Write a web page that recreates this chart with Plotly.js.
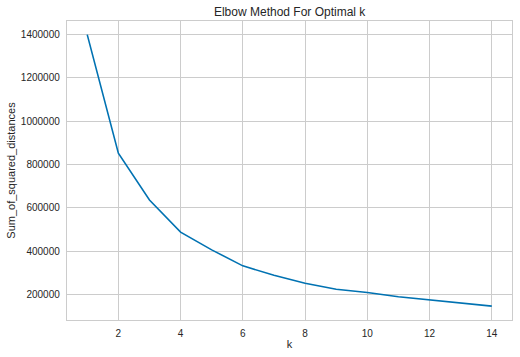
<!DOCTYPE html>
<html>
<head>
<meta charset="utf-8">
<script src="https://cdn.plot.ly/plotly-3.0.1.min.js"></script>
<style>html,body{margin:0;padding:0;background:#fff;}#chart{width:520px;height:357px;}</style>
</head>
<body>
<div id="chart"></div>
<script>
const kValues = [1, 2, 3, 4, 5, 6, 7, 8, 9, 10, 11, 12, 13, 14];
const sumSquaredDistances = [1400000, 852000, 636000, 488000, 406000, 332000, 289000, 252000, 224000, 209000, 189000, 174000, 160000, 146000];
const xTicks = [2, 4, 6, 8, 10, 12, 14];
const yTicks = [200000, 400000, 600000, 800000, 1000000, 1200000, 1400000];

const trace = {
  x: kValues,
  y: sumSquaredDistances,
  type: 'scatter',
  mode: 'lines',
  line: {color: '#0072B2', width: 1.6},
  hoverinfo: 'skip'
};

const axisCommon = {
  showgrid: true,
  gridcolor: '#cccccc',
  gridwidth: 1,
  showline: true,
  mirror: true,
  linecolor: '#cccccc',
  linewidth: 1.2,
  zeroline: false,
  ticks: 'outside',
  ticklen: 4,
  tickcolor: 'rgba(0,0,0,0)',
  tickfont: {family: 'Liberation Sans, Arial, sans-serif', size: 10, color: '#262626'}
};

const layout = {
  width: 520,
  height: 357,
  margin: {l: 67, r: 8, t: 21, b: 37},
  paper_bgcolor: '#ffffff',
  plot_bgcolor: '#ffffff',
  showlegend: false,
  title: {
    text: 'Elbow Method For Optimal k',
    font: {family: 'Liberation Sans, Arial, sans-serif', size: 12, color: '#262626'},
    x: 0.557, xanchor: 'center', y: 0.967, yanchor: 'middle'
  },
  xaxis: Object.assign({}, axisCommon, {
    range: [0.35, 14.65],
    tickvals: xTicks,
    ticktext: xTicks.map(String),
    title: {text: 'k', font: {family: 'Liberation Sans, Arial, sans-serif', size: 11, color: '#262626'}, standoff: 2}
  }),
  yaxis: Object.assign({}, axisCommon, {
    range: [82000, 1463000],
    tickvals: yTicks,
    ticktext: yTicks.map(String),
    title: {text: 'Sum_of_squared_distances', font: {family: 'Liberation Sans, Arial, sans-serif', size: 11, color: '#262626'}, standoff: 3}
  })
};

Plotly.newPlot('chart', [trace], layout, {displayModeBar: false, staticPlot: true});
</script>
</body>
</html>
